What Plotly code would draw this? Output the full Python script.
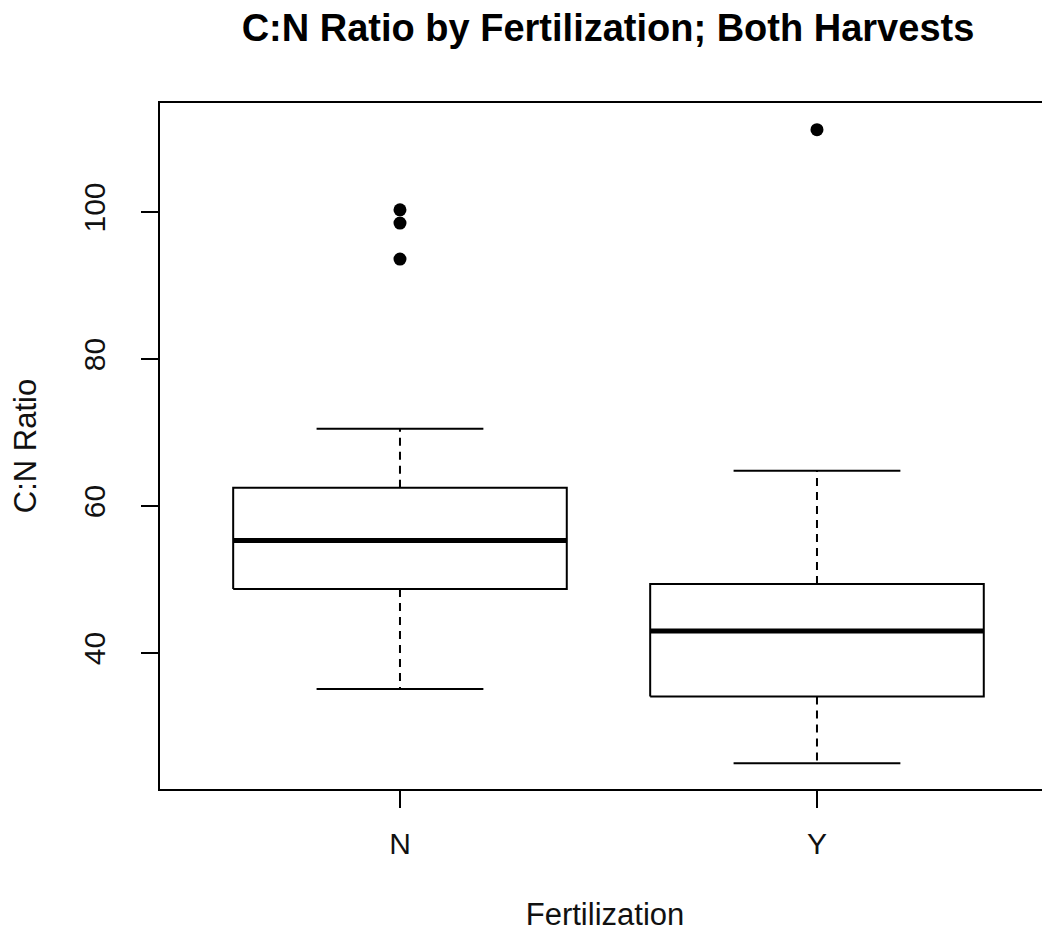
import plotly.graph_objects as go

# Data
groups = ["N", "Y"]
positions = [1, 2]
lower_whisker = [35.1, 25.0]
q1 = [48.7, 34.1]
median = [55.3, 43.0]
q3 = [62.5, 49.4]
upper_whisker = [70.5, 64.8]
outliers = [[93.6, 98.5, 100.3], [111.2]]

y_ticks = [40, 60, 80, 100]

box_half = 0.4
cap_half = 0.2

fig = go.Figure()

for i, g in enumerate(groups):
    x0 = positions[i]
    # box
    fig.add_trace(go.Scatter(
        x=[x0 - box_half, x0 + box_half, x0 + box_half, x0 - box_half, x0 - box_half],
        y=[q1[i], q1[i], q3[i], q3[i], q1[i]],
        mode="lines", line=dict(color="black", width=2), hoverinfo="skip", showlegend=False))
    # median
    fig.add_trace(go.Scatter(
        x=[x0 - box_half, x0 + box_half], y=[median[i], median[i]],
        mode="lines", line=dict(color="black", width=5), showlegend=False, name=g))
    # whiskers (dashed)
    fig.add_trace(go.Scatter(
        x=[x0, x0, None, x0, x0],
        y=[q3[i], upper_whisker[i], None, q1[i], lower_whisker[i]],
        mode="lines", line=dict(color="black", width=2, dash="8px,6px"), hoverinfo="skip", showlegend=False))
    # caps
    fig.add_trace(go.Scatter(
        x=[x0 - cap_half, x0 + cap_half, None, x0 - cap_half, x0 + cap_half],
        y=[upper_whisker[i], upper_whisker[i], None, lower_whisker[i], lower_whisker[i]],
        mode="lines", line=dict(color="black", width=2), hoverinfo="skip", showlegend=False))
    # outliers
    fig.add_trace(go.Scatter(
        x=[x0] * len(outliers[i]), y=outliers[i],
        mode="markers", marker=dict(color="black", size=13), showlegend=False))

font_family = "Liberation Sans, Arial, sans-serif"

W, H = 1042, 924
fig.update_layout(
    width=W, height=H,
    margin=dict(l=152, r=0, t=95, b=H - 95 - 686),
    paper_bgcolor="white", plot_bgcolor="white",
    font=dict(family=font_family, size=30, color="#111111"),
    title=dict(text="<b>C:N Ratio by Fertilization; Both Harvests</b>",
               x=(608 - 8) / W, xref="container", xanchor="center",
               y=1 - 20 / H, yref="container", yanchor="middle",
               font=dict(size=38, family=font_family, color="black")),
    xaxis=dict(range=[0.4245, 2.5588], tickvals=positions, ticktext=groups,
               showline=True, linecolor="black", linewidth=2, mirror=True,
               ticks="outside", ticklen=17, tickwidth=2, tickcolor="black",
               showgrid=False, zeroline=False, ticklabelstandoff=10,
               tickfont=dict(size=30), automargin=False,
               title=dict(text="Fertilization", standoff=57, font=dict(size=31))),
    yaxis=dict(range=[21.50, 114.83], tickvals=y_ticks,
               showline=True, linecolor="black", linewidth=2, mirror=False,
               ticks="outside", ticklen=17, tickwidth=2, tickcolor="black",
               tickangle=-90, showgrid=False, zeroline=False, ticklabelstandoff=24,
               tickfont=dict(size=30), automargin=False,
               title=dict(text="C:N Ratio", standoff=38, font=dict(size=31))),
)

fig.write_html("out.html")
